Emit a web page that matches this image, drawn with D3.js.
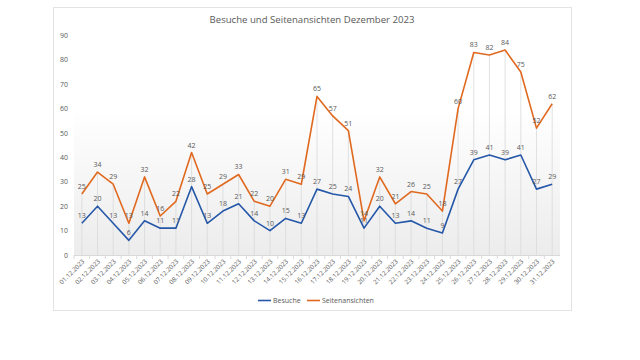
<!DOCTYPE html>
<html><head><meta charset="utf-8">
<script src="https://cdn.jsdelivr.net/npm/d3@7"></script>
<style>body{margin:0;background:#fff}svg{display:block}</style>
</head><body>
<svg id="c" width="640" height="360"></svg>
<script>
const title = "Besuche und Seitenansichten Dezember 2023";
const dates = ["01.12.2023","02.12.2023","03.12.2023","04.12.2023","05.12.2023","06.12.2023","07.12.2023","08.12.2023","09.12.2023","10.12.2023","11.12.2023","12.12.2023","13.12.2023","14.12.2023","15.12.2023","16.12.2023","17.12.2023","18.12.2023","19.12.2023","20.12.2023","21.12.2023","22.12.2023","23.12.2023","24.12.2023","25.12.2023","26.12.2023","27.12.2023","28.12.2023","29.12.2023","30.12.2023","31.12.2023"];
const besuche = [13,20,13,6,14,11,11,28,13,18,21,14,10,15,13,27,25,24,11,20,13,14,11,9,27,39,41,39,41,27,29];
const seiten = [25,34,29,13,32,16,22,42,25,29,33,22,20,31,29,65,57,51,14,32,21,26,25,18,60,83,82,84,75,52,62];
const yTicks = [0,10,20,30,40,50,60,70,80,90];
const seriesNames = ["Besuche","Seitenansichten"];
const colors = ["#2557A8","#E0691F"];

const svg = d3.select("#c");
const font = "'Open Sans', sans-serif";
const L = 74, R = 560, T = 35.4, B = 255;

const defs = svg.append("defs");
const g1 = defs.append("linearGradient").attr("id","bg").attr("x1",0).attr("x2",0).attr("y1",0).attr("y2",1);
g1.append("stop").attr("offset","0%").attr("stop-color","#ffffff");
g1.append("stop").attr("offset","100%").attr("stop-color","#ececec");

svg.append("rect").attr("x",53.5).attr("y",7.5).attr("width",518).attr("height",303)
  .attr("fill","#fff").attr("stroke","#e3e3e3");

const x = d3.scalePoint().domain(dates).range([L, R]).padding(0.5);
const y = d3.scaleLinear().domain([0,90]).range([B, T]);

svg.append("rect").attr("x",L).attr("y",y(60)).attr("width",R-L).attr("height",B-y(60)).attr("fill","url(#bg)");

svg.append("text").attr("x",312).attr("y",23).attr("text-anchor","middle")
  .attr("font-family",font).attr("font-size",9.6).attr("fill","#595959").text(title);

// y labels
svg.append("g").selectAll("text").data(yTicks).join("text")
  .attr("x",68).attr("y",d=>y(d)+2.5).attr("text-anchor","end")
  .attr("font-family",font).attr("font-size",7).attr("fill","#595959").text(d=>d);

// drop lines
svg.append("g").selectAll("line").data(dates).join("line")
  .attr("x1",d=>x(d)).attr("x2",d=>x(d))
  .attr("y1",(d,i)=>y(Math.max(besuche[i],seiten[i]))).attr("y2",B)
  .attr("stroke","#d9d9d9").attr("stroke-width",0.8);

// x axis line
svg.append("line").attr("x1",L).attr("x2",R).attr("y1",B+0.5).attr("y2",B+0.5).attr("stroke","#d9d9d9");
svg.append("g").selectAll("line").data(dates).join("line")
  .attr("x1",d=>x(d)-x.step()/2).attr("x2",d=>x(d)-x.step()/2).attr("y1",B).attr("y2",B+4)
  .attr("stroke","#d9d9d9");

// x labels
svg.append("g").selectAll("text").data(dates).join("text")
  .attr("transform",d=>`translate(${x(d)+3},${B+7}) rotate(-45)`)
  .attr("text-anchor","end").attr("font-family",font).attr("font-size",6.3).attr("fill","#595959").text(d=>d);

const line = d3.line().x((d,i)=>x(dates[i])).y(d=>y(d));
[besuche, seiten].forEach((s,k)=>{
  svg.append("path").datum(s).attr("d",line).attr("fill","none")
    .attr("stroke",colors[k]).attr("stroke-width",1.6).attr("stroke-linejoin","round");
});
[besuche, seiten].forEach((s,k)=>{
  svg.append("g").selectAll("text").data(s).join("text")
    .attr("x",(d,i)=>x(dates[i])).attr("y",d=>y(d)-5)
    .attr("text-anchor","middle").attr("font-family",font).attr("font-size",7).attr("fill","#595959").text(d=>d);
});

// legend
const lg = svg.append("g");
const lx = [258, 307];
seriesNames.forEach((n,k)=>{
  lg.append("line").attr("x1",lx[k]).attr("x2",lx[k]+13).attr("y1",300.5).attr("y2",300.5).attr("stroke",colors[k]).attr("stroke-width",1.6);
  lg.append("text").attr("x",lx[k]+15).attr("y",303).attr("font-family",font).attr("font-size",7).attr("fill","#595959").text(n);
});
</script>
</body></html>
